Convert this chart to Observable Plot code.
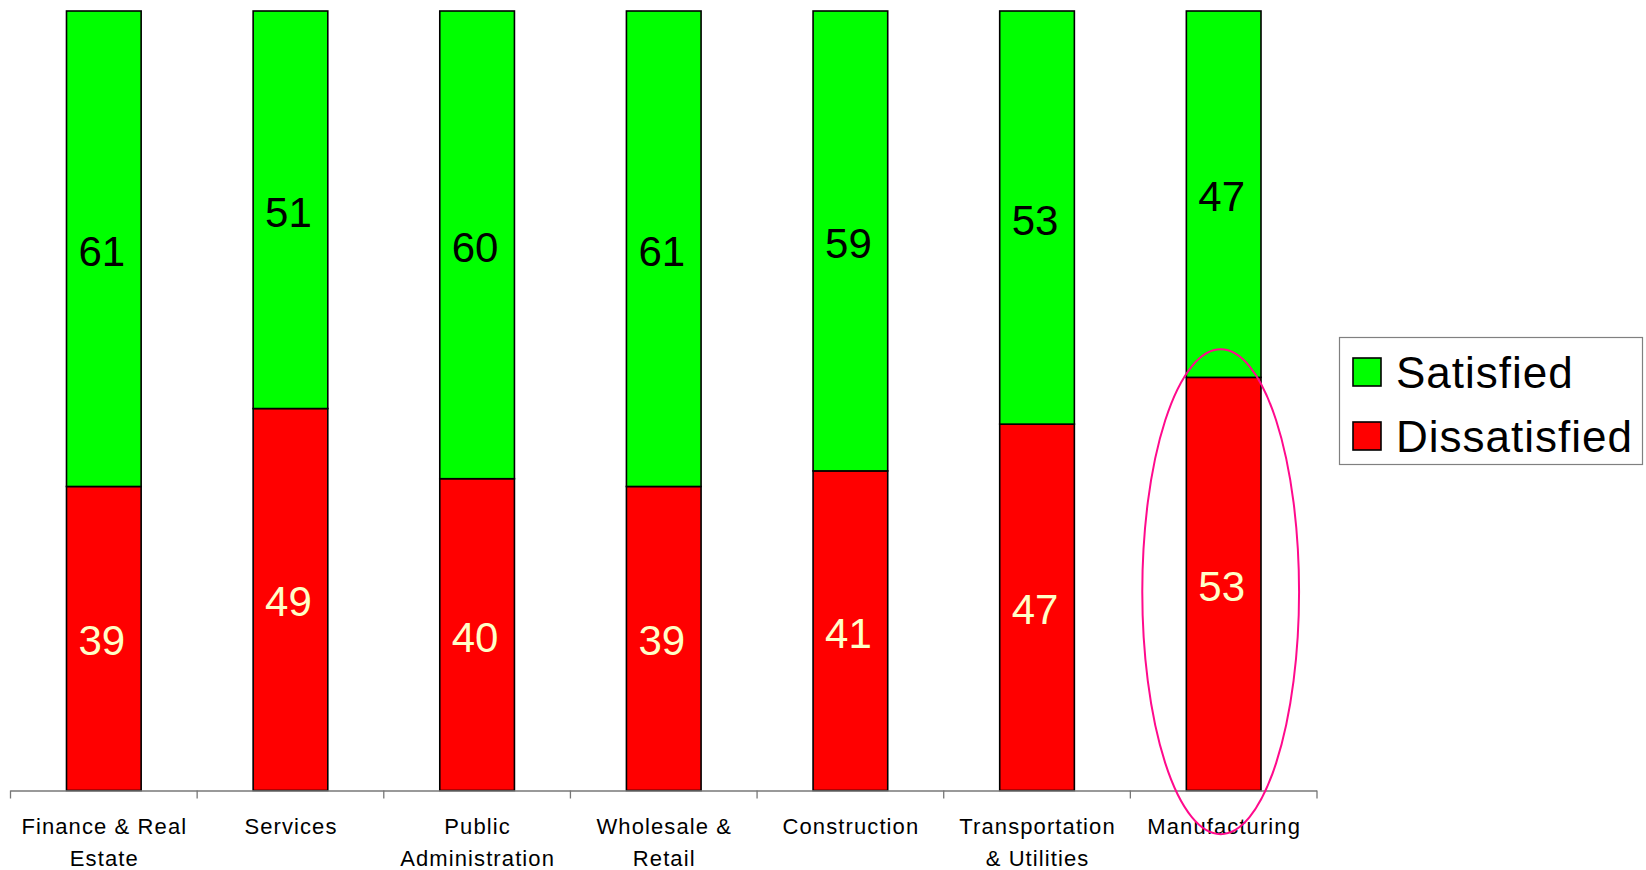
<!DOCTYPE html>
<html>
<head>
<meta charset="utf-8">
<script src="https://cdn.jsdelivr.net/npm/d3@7"></script>
<script src="https://cdn.jsdelivr.net/npm/@observablehq/plot@0.6"></script>
<style>
  html, body { margin: 0; padding: 0; background: #ffffff; }
  #chart svg { display: block; }
  .cat-label text { letter-spacing: 1.1px; }
</style>
</head>
<body>
<div id="chart"></div>
<script>
// Job satisfaction by industry (percent of respondents)
const categories = [
  "Finance & Real Estate",
  "Services",
  "Public Administration",
  "Wholesale & Retail",
  "Construction",
  "Transportation & Utilities",
  "Manufacturing"
];
const tickLabels = [
  "Finance & Real\nEstate",
  "Services",
  "Public\nAdministration",
  "Wholesale &\nRetail",
  "Construction",
  "Transportation\n& Utilities",
  "Manufacturing"
];
const satisfied = [61, 51, 60, 61, 59, 53, 47];
const dissatisfied = [39, 49, 40, 39, 41, 47, 53];
const seriesNames = ["Dissatisfied", "Satisfied"];
const seriesColors = ["#ff0000", "#00ff00"];

// Highlighted category and the vertical extent of its ring (in percent units)
const highlight = "Manufacturing";
const ringTop = 56.6;
const ringBottom = -5.6;

// Long-format rows: dissatisfied first so it sits at the bottom of each stack
const rows = categories.flatMap((c, i) => [
  {category: c, series: "Dissatisfied", value: dissatisfied[i]},
  {category: c, series: "Satisfied", value: satisfied[i]}
]);

const font = "'Liberation Sans', Arial, Helvetica, sans-serif";

// Value labels: stack everything first, then keep one series per mark
const stackedLabels = (series, fill) =>
  Plot.text(rows, Plot.filter(d => d.series === series, Plot.stackY({
    x: "category", y: "value", z: "series", text: "value",
    fill, fontSize: 42, dx: -2.5, dy: 3
  })));

const chart = Plot.plot({
  width: 1646,
  height: 870,
  marginLeft: 10.5,
  marginRight: 329,
  marginTop: 11,
  marginBottom: 79.5,
  style: {fontFamily: font, background: "#ffffff", overflow: "visible"},
  x: {domain: categories, paddingInner: 0.6, paddingOuter: 0.3, round: false, axis: null},
  y: {domain: [0, 100], axis: null},
  color: {domain: seriesNames, range: seriesColors},
  marks: [
    Plot.barY(rows, {
      x: "category", y: "value", z: "series", fill: "series",
      stroke: "#000000", strokeWidth: 1.6
    }),
    stackedLabels("Satisfied", "#000000"),
    stackedLabels("Dissatisfied", "#ffffc8"),
    Plot.ruleY([0], {stroke: "#777777", strokeWidth: 1.3}),
    Plot.text(categories, {
      x: d => d, y: 0, text: (d, i) => tickLabels[i],
      lineAnchor: "top", dy: 21, lineHeight: 1.44,
      fontSize: 22, fill: "#000000", className: "cat-label"
    })
  ]
});

document.getElementById("chart").appendChild(chart);

const svg = d3.select(chart);
const xs = chart.scale("x");
const ys = chart.scale("y");

// Category tick marks at the band boundaries
const x0 = xs.range[0];
const boundaries = d3.range(categories.length + 1).map(i => x0 + i * xs.step);
svg.append("g")
  .selectAll("line")
  .data(boundaries)
  .join("line")
  .attr("x1", d => d).attr("x2", d => d)
  .attr("y1", ys.apply(0)).attr("y2", ys.apply(0) + 8)
  .attr("stroke", "#777777").attr("stroke-width", 1.3);

// Ring around the highlighted category
const cx = xs.apply(highlight) + xs.bandwidth / 2;
const yTop = ys.apply(ringTop);
const yBottom = ys.apply(ringBottom);
svg.append("ellipse")
  .attr("cx", cx - 3)
  .attr("cy", (yTop + yBottom) / 2)
  .attr("rx", xs.step * 0.42)
  .attr("ry", (yBottom - yTop) / 2)
  .attr("fill", "none")
  .attr("stroke", "#ff0a8c")
  .attr("stroke-width", 2);

// Legend
const legend = svg.append("g")
  .attr("font-family", font)
  .attr("text-anchor", "start");
legend.append("rect")
  .attr("x", 1339.5).attr("y", 337.5)
  .attr("width", 303).attr("height", 127)
  .attr("fill", "#ffffff").attr("stroke", "#808080").attr("stroke-width", 1.2);
const legendItems = [
  {name: "Satisfied", color: seriesColors[1]},
  {name: "Dissatisfied", color: seriesColors[0]}
];
legendItems.forEach((item, i) => {
  const top = 358 + i * 64;
  legend.append("rect")
    .attr("x", 1353).attr("y", top)
    .attr("width", 28).attr("height", 28)
    .attr("fill", item.color).attr("stroke", "#000000").attr("stroke-width", 1.6);
  legend.append("text")
    .attr("x", 1396).attr("y", top + 30)
    .attr("font-size", 44).attr("letter-spacing", "1px").attr("fill", "#000000")
    .text(item.name);
});
</script>
</body>
</html>
